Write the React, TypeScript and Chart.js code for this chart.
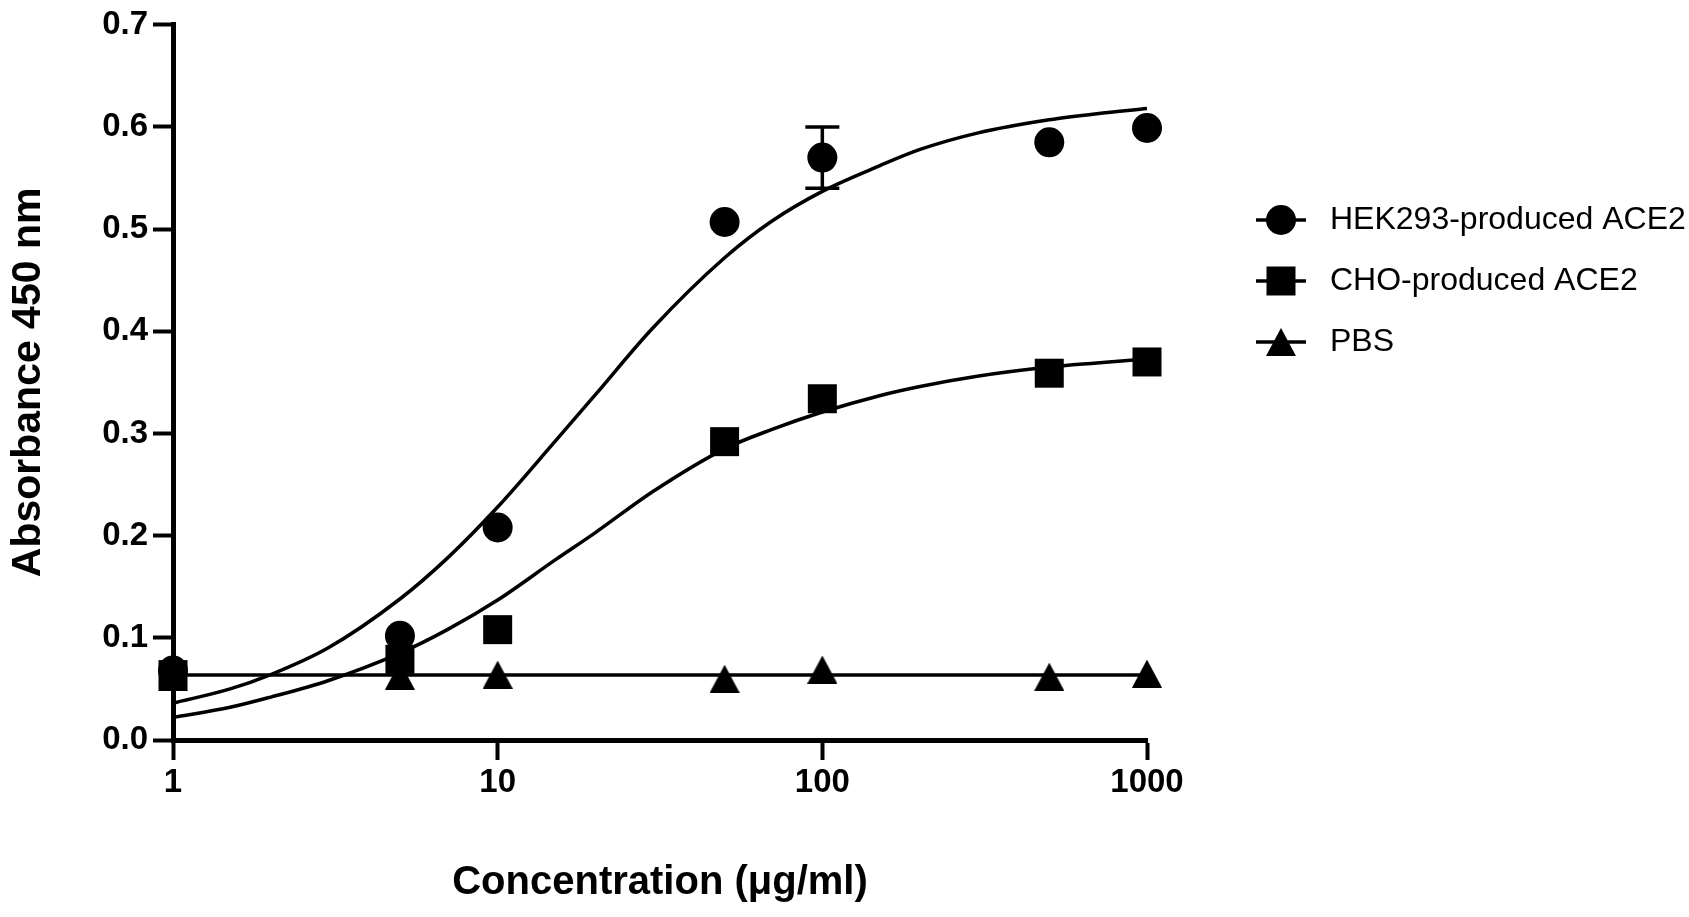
import React, { useEffect, useRef } from 'react';
import { Chart, registerables } from 'chart.js';
import { drawPoint } from 'chart.js/helpers';

Chart.register(...registerables);

// measured points (concentration in ug/ml, absorbance at 450 nm)
const concentrations = [1, 5, 10, 50, 100, 500, 1000];
const hekValues = [0.068, 0.102, 0.208, 0.507, 0.57, 0.585, 0.599];
const hekErrors = [0, 0, 0, 0, 0.03, 0, 0];
const choValues = [0.064, 0.079, 0.108, 0.292, 0.334, 0.359, 0.37];
const pbsValues = [0.062, 0.063, 0.064, 0.06, 0.069, 0.062, 0.065];

// fitted curves
const fitConcentrations = [1, 1.5, 2, 3, 5, 7, 10, 15, 20, 30, 50, 70, 100, 150, 200, 300, 500, 700, 1000];
const hekFit = [0.036, 0.05, 0.064, 0.09, 0.138, 0.178, 0.228, 0.292, 0.338, 0.403, 0.472, 0.508, 0.537, 0.562, 0.578, 0.594, 0.607, 0.613, 0.618];
const choFit = [0.022, 0.032, 0.042, 0.058, 0.085, 0.108, 0.137, 0.176, 0.203, 0.243, 0.285, 0.304, 0.321, 0.337, 0.346, 0.356, 0.365, 0.369, 0.373];
const pbsFitConcentrations = [1, 1000];
const pbsFit = [0.0635, 0.0635];

const seriesLabels = ['HEK293-produced ACE2', 'CHO-produced ACE2', 'PBS'];
const xTicks = [1, 10, 100, 1000];
const yTicks = [0, 0.1, 0.2, 0.3, 0.4, 0.5, 0.6, 0.7];

const FONT = '"Liberation Sans", Arial, Helvetica, sans-serif';

const toPoints = (xs: number[], ys: number[]) => xs.map((x, i) => ({ x, y: ys[i] }));

function makeTriangle(w: number, h: number) {
  const c = document.createElement('canvas');
  c.width = w;
  c.height = h;
  const ctx = c.getContext('2d')!;
  ctx.fillStyle = '#000';
  ctx.beginPath();
  ctx.moveTo(w / 2, 0);
  ctx.lineTo(w, h);
  ctx.lineTo(0, h);
  ctx.closePath();
  ctx.fill();
  return c;
}

const errorBars = {
  id: 'errorBars',
  beforeDatasetsDraw(chart: any) {
    const { ctx, scales } = chart;
    const x = scales.x;
    const y = scales.y;
    ctx.save();
    ctx.strokeStyle = '#000';
    ctx.lineWidth = 3.5;
    concentrations.forEach((c, i) => {
      const e = hekErrors[i];
      if (!e) return;
      const px = x.getPixelForValue(c);
      const top = y.getPixelForValue(hekValues[i] + e);
      const bot = y.getPixelForValue(hekValues[i] - e);
      ctx.beginPath();
      ctx.moveTo(px, top);
      ctx.lineTo(px, bot);
      ctx.moveTo(px - 17, top);
      ctx.lineTo(px + 17, top);
      ctx.moveTo(px - 17, bot);
      ctx.lineTo(px + 17, bot);
      ctx.stroke();
    });
    ctx.restore();
  },
};

const sideLegend = {
  id: 'sideLegend',
  afterDraw(chart: any) {
    const { ctx, chartArea } = chart;
    const lineX1 = chartArea.right + 109;
    const lineX2 = chartArea.right + 159;
    const markX = chartArea.right + 134;
    const textX = chartArea.right + 183;
    const rows = [220, 281, 342];
    ctx.save();
    ctx.font = `32px ${FONT}`;
    ctx.textBaseline = 'middle';
    ctx.fillStyle = '#000';
    ctx.strokeStyle = '#000';
    ctx.lineWidth = 3.5;
    seriesLabels.forEach((label, i) => {
      const ds = chart.data.datasets[i];
      const cy = rows[i];
      ctx.beginPath();
      ctx.moveTo(lineX1, cy);
      ctx.lineTo(lineX2, cy);
      ctx.stroke();
      drawPoint(ctx, { pointStyle: ds.pointStyle, radius: ds.pointRadius, rotation: 0, borderWidth: 0 }, markX, cy);
      ctx.fillText(label, textX, cy);
    });
    ctx.restore();
  },
};

const App: React.FC = () => {
  const chartRef = useRef<HTMLCanvasElement>(null);
  const chartInstance = useRef<Chart>();

  useEffect(() => {
    if (!chartRef.current) return;
    const triangle = makeTriangle(30, 28);

    Chart.defaults.font.family = FONT;
    Chart.defaults.color = '#000';

    chartInstance.current = new Chart(chartRef.current, {
      type: 'scatter',
      data: {
        datasets: [
          {
            label: seriesLabels[0],
            data: toPoints(concentrations, hekValues),
            pointStyle: 'circle',
            pointRadius: 15,
            backgroundColor: '#000',
            borderWidth: 0,
            showLine: false,
            clip: false,
          },
          {
            label: seriesLabels[1],
            data: toPoints(concentrations, choValues),
            pointStyle: 'rect',
            pointRadius: 20.5,
            backgroundColor: '#000',
            borderWidth: 0,
            showLine: false,
            clip: false,
          },
          {
            label: seriesLabels[2],
            data: toPoints(concentrations, pbsValues),
            pointStyle: triangle,
            pointRadius: 15,
            backgroundColor: '#000',
            borderWidth: 0,
            showLine: false,
            clip: false,
          },
          {
            label: 'HEK293 fit',
            data: toPoints(fitConcentrations, hekFit),
            showLine: true,
            pointRadius: 0,
            borderColor: '#000',
            borderWidth: 3.5,
            cubicInterpolationMode: 'monotone',
          },
          {
            label: 'CHO fit',
            data: toPoints(fitConcentrations, choFit),
            showLine: true,
            pointRadius: 0,
            borderColor: '#000',
            borderWidth: 3.5,
            cubicInterpolationMode: 'monotone',
          },
          {
            label: 'PBS fit',
            data: toPoints(pbsFitConcentrations, pbsFit),
            showLine: true,
            pointRadius: 0,
            borderColor: '#000',
            borderWidth: 3.5,
          },
        ],
      } as any,
      options: {
        animation: false,
        responsive: true,
        maintainAspectRatio: false,
        layout: { padding: { top: 23.5, right: 542, left: 0, bottom: 0 } },
        plugins: {
          legend: { display: false },
          tooltip: { enabled: false },
        },
        scales: {
          x: {
            type: 'logarithmic',
            min: 1,
            max: 1000,
            afterBuildTicks: (scale: any) => {
              scale.ticks = xTicks.map((v) => ({ value: v }));
            },
            afterFit: (scale: any) => {
              scale.height = 177;
            },
            ticks: {
              callback: (v: any) => String(v),
              font: { size: 33, weight: 'bold' },
              padding: 3,
              maxRotation: 0,
              autoSkip: false,
            },
            grid: {
              drawOnChartArea: false,
              tickLength: 20,
              tickWidth: 4,
              color: '#000',
            },
            border: { display: true, width: 5, color: '#000' },
            title: {
              display: true,
              text: 'Concentration (μg/ml)',
              font: { size: 40, weight: 'bold' },
              padding: { top: 0, bottom: 10 },
            },
          },
          y: {
            min: 0,
            max: 0.7,
            afterBuildTicks: (scale: any) => {
              scale.ticks = yTicks.map((v) => ({ value: v }));
            },
            afterFit: (scale: any) => {
              scale.width = 173;
            },
            ticks: {
              callback: (v: any) => Number(v).toFixed(1),
              font: { size: 33, weight: 'bold' },
              padding: 5,
            },
            grid: {
              drawOnChartArea: false,
              tickLength: 20,
              tickWidth: 4,
              color: '#000',
            },
            border: { display: true, width: 5, color: '#000' },
            title: {
              display: true,
              text: 'Absorbance 450 nm',
              font: { size: 41, weight: 'bold' },
              padding: { top: 4.5, bottom: 0 },
            },
          },
        },
      } as any,
      plugins: [errorBars, sideLegend],
    });

    return () => {
      if (chartInstance.current) {
        chartInstance.current.destroy();
      }
    };
  }, []);

  return (
    <div style={{ position: 'absolute', left: 0, top: 0, width: 1689, height: 917, background: '#fff' }}>
      <canvas ref={chartRef} />
    </div>
  );
};

export default App;
